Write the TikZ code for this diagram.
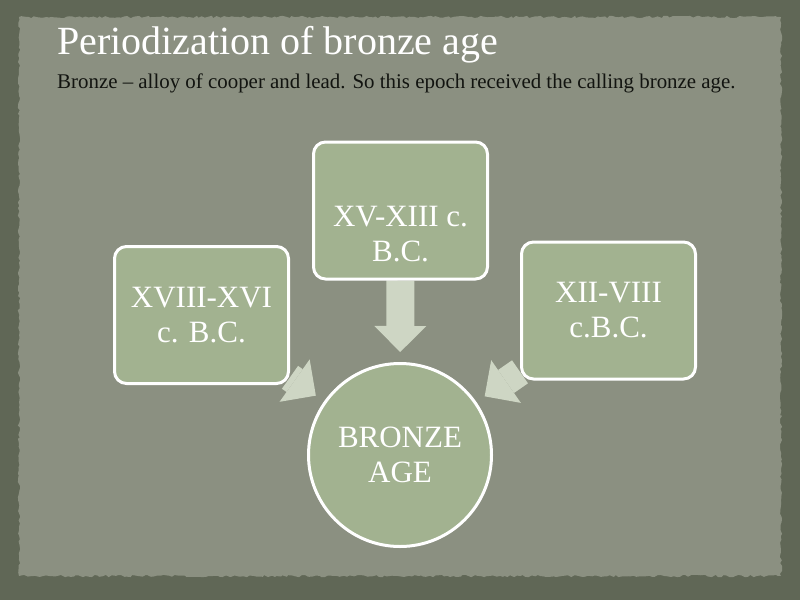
\documentclass[tikz,border=0pt]{standalone}
\usepackage{fontspec}
\setmainfont{Liberation Serif}
\usetikzlibrary{arrows.meta,decorations.pathmorphing}
\definecolor{framecol}{RGB}{96,103,86}
\definecolor{papercol}{RGB}{139,144,129}
\definecolor{boxcol}{RGB}{162,178,144}
\definecolor{arrowcol}{RGB}{206,214,196}
\definecolor{inkcol}{RGB}{18,20,16}
\pgfdeclarelayer{paperlayer}
\pgfdeclarelayer{arrowlayer}
\pgfsetlayers{paperlayer,arrowlayer,main}
\tikzset{every picture/.style={line width=0.75pt}}

\begin{document}
\begin{tikzpicture}[x=1pt, y=-1pt,
    boxfont/.style={text=white, font=\fontsize{31}{35}\selectfont},
    period/.style={draw=white, line width=3pt, fill=boxcol, rounded corners=12pt,
      minimum width=174pt, minimum height=137pt, align=center, boxfont},
    agecircle/.style={circle, draw=white, line width=3pt, fill=boxcol, minimum size=183pt,
      align=center, boxfont},
    blockarrow/.style={draw=arrowcol, line width=28pt,
      -{Triangle[length=26pt, width=52pt, line width=0pt]}, shorten >=10pt}]
    \useasboundingbox (0,0) rectangle (800,600);
    % papel envelhecido sobre a moldura escura
    \begin{pgfonlayer}{paperlayer}
        \fill[framecol] (0,0) rectangle (800,600);
        \fill[papercol, decorate, decoration={random steps, segment length=3pt, amplitude=1.2pt}]
            (19,17) rectangle (781,576);
    \end{pgfonlayer}
    % títulos
    \node[anchor=base west, inner sep=0pt, text=white, font=\fontsize{40}{44}\selectfont]
        (title) at (57,54) {Periodization of bronze age};
    \node[anchor=base west, inner sep=0pt, text=inkcol, font=\fontsize{20.9}{22}\selectfont]
        (subtitle) at (57,88) {Bronze – alloy of cooper and lead. So this epoch received the calling bronze age.};
    % períodos e a idade do bronze
    \node[period] (early) at (201.5,315) {XVIII-XVI\\c. B.C.};
    \node[period, label={[align=center, boxfont, yshift=-24pt]center:{XV-XIII c.\\B.C.}}]
        (middle) at (400.5,210.5) {};
    \node[period] (late) at (608.5,310.5) {XII-VIII\\c.B.C.};
    \node[agecircle] (bronze) at (400,455) {BRONZE\\AGE};
    % setas
    \begin{pgfonlayer}{arrowlayer}
        \foreach \src in {early,middle,late}
            \draw[blockarrow] (\src) -- (bronze);
    \end{pgfonlayer}
\end{tikzpicture}
\end{document}
